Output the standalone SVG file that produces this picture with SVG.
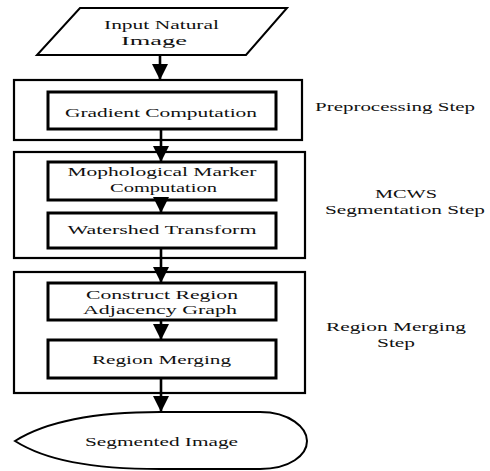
<svg xmlns="http://www.w3.org/2000/svg" width="490" height="471" viewBox="0 0 490 471">
<style>
.outer{fill:none;stroke:#000;stroke-width:2.2}
.inner{fill:#fff;stroke:#000;stroke-width:3}
.shape{fill:#fff;stroke:#000;stroke-width:2}
.edge{fill:none;stroke:#000;stroke-width:2.6}
text{font-family:"Liberation Serif","Times New Roman",serif;font-size:13.5px;fill:#111;text-anchor:middle}
</style>
<defs>
<marker id="ah" markerUnits="userSpaceOnUse" markerWidth="16" markerHeight="16" refX="14" refY="7" orient="auto" viewBox="0 0 14 14">
<path d="M0,0 L14,7 L0,14 Z" fill="#000"/>
</marker>
</defs>
<rect width="490" height="471" fill="#fff"/>
<g id="stage-preprocessing">
<rect class="outer" x="14" y="80" width="288" height="60"/>
<text x="395" y="111" textLength="160" lengthAdjust="spacingAndGlyphs">Preprocessing Step</text>
</g>
<g id="stage-mcws">
<rect class="outer" x="14" y="152" width="291" height="106"/>
<text x="406" y="197.5" textLength="62" lengthAdjust="spacingAndGlyphs">MCWS</text>
<text x="405" y="213.5" textLength="160" lengthAdjust="spacingAndGlyphs">Segmentation Step</text>
</g>
<g id="stage-merging">
<rect class="outer" x="14" y="272" width="291" height="121"/>
<text x="396" y="331" textLength="140" lengthAdjust="spacingAndGlyphs">Region Merging</text>
<text x="396" y="347" textLength="38" lengthAdjust="spacingAndGlyphs">Step</text>
</g>
<g id="input">
<polygon class="shape" points="80,8 287,8 246,55 37,55"/>
<text x="161.5" y="28.5" textLength="115" lengthAdjust="spacingAndGlyphs">Input Natural</text>
<text x="154" y="44.5" textLength="66" lengthAdjust="spacingAndGlyphs">Image</text>
</g>
<g id="gradient">
<rect class="inner" x="48" y="92" width="228" height="37"/>
<text x="161" y="116.5" textLength="192" lengthAdjust="spacingAndGlyphs">Gradient Computation</text>
</g>
<g id="marker">
<rect class="inner" x="48" y="162" width="228" height="38"/>
<text x="162" y="176" textLength="189" lengthAdjust="spacingAndGlyphs">Mophological Marker</text>
<text x="163.5" y="191.5" textLength="107" lengthAdjust="spacingAndGlyphs">Computation</text>
</g>
<g id="watershed">
<rect class="inner" x="48" y="213" width="228" height="35"/>
<text x="162" y="234" textLength="189" lengthAdjust="spacingAndGlyphs">Watershed Transform</text>
</g>
<g id="rag">
<rect class="inner" x="48" y="283" width="228" height="37"/>
<text x="162" y="298.5" textLength="152" lengthAdjust="spacingAndGlyphs">Construct Region</text>
<text x="160" y="314" textLength="154" lengthAdjust="spacingAndGlyphs">Adjacency Graph</text>
</g>
<g id="region-merging">
<rect class="inner" x="48" y="340" width="228" height="38"/>
<text x="161.5" y="364" textLength="139" lengthAdjust="spacingAndGlyphs">Region Merging</text>
</g>
<g id="output">
<path class="shape" d="M15,441 C45,422 90,412 160,412 L260,412 C290,412 307,428 307,441 C307,455 290,469 260,469 L160,469 C90,469 45,460 15,441 Z"/>
<text x="161.5" y="446" textLength="153" lengthAdjust="spacingAndGlyphs">Segmented Image</text>
</g>
<g id="connectors">
<line class="edge" x1="160" y1="55" x2="160" y2="80" marker-end="url(#ah)"/>
<line class="edge" x1="161" y1="129" x2="161" y2="162" marker-end="url(#ah)"/>
<line class="edge" x1="161" y1="200" x2="161" y2="213" marker-end="url(#ah)"/>
<line class="edge" x1="161" y1="248" x2="161" y2="283" marker-end="url(#ah)"/>
<line class="edge" x1="161" y1="320" x2="161" y2="340" marker-end="url(#ah)"/>
<line class="edge" x1="161" y1="378" x2="161" y2="412" marker-end="url(#ah)"/>
</g>
</svg>
